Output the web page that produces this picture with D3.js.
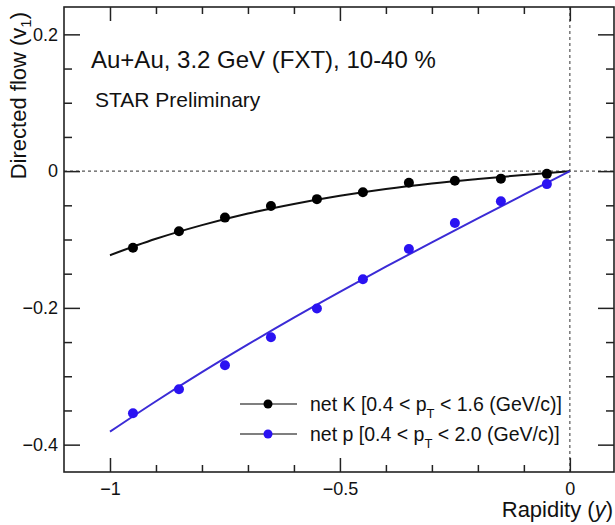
<!DOCTYPE html>
<html>
<head>
<meta charset="utf-8">
<script src="https://cdn.jsdelivr.net/npm/d3@7"></script>
<style>
  body { margin: 0; background: #fff; }
  svg { display: block; }
  text { font-family: "Liberation Sans", Arial, Helvetica, sans-serif; fill: #111; }
</style>
</head>
<body>
<svg id="chart" width="615" height="525"></svg>
<script>
// Directed flow v1 vs rapidity, Au+Au 3.2 GeV (FXT), 10-40 % centrality
const rapidity = [-0.95, -0.85, -0.75, -0.65, -0.55, -0.45, -0.35, -0.25, -0.15, -0.05];
const v1NetK   = [-0.112, -0.088, -0.068, -0.051, -0.041, -0.031, -0.017, -0.014, -0.011, -0.004];
const v1NetP   = [-0.354, -0.319, -0.284, -0.243, -0.201, -0.158, -0.114, -0.076, -0.044, -0.019];

// fitted curves, sampled along rapidity
const fitRapidity = [-1, -0.9, -0.8, -0.7, -0.6, -0.5, -0.4, -0.3, -0.2, -0.1, 0];
const fitNetK = [-0.123, -0.099, -0.079, -0.062, -0.048, -0.036, -0.026, -0.018, -0.0115, -0.0056, 0];
const fitNetP = [-0.381, -0.3365, -0.294, -0.2534, -0.2142, -0.1765, -0.1398, -0.1041, -0.069, -0.0344, 0];

const xMajorTicks = [-1, -0.5, 0];
const xMinorTicks = [-0.9, -0.8, -0.7, -0.6, -0.4, -0.3, -0.2, -0.1];
const yMajorTicks = [-0.4, -0.2, 0, 0.2];
const yMinorTicks = [-0.35, -0.3, -0.25, -0.15, -0.1, -0.05, 0.05, 0.1, 0.15];

const seriesNames = ["net K", "net p"];
const seriesColors = ["#000000", "#2a12f2"];
const fitColors = ["#111111", "#3b2bd6"];
const ptRanges = ["0.4 < p", "0.4 < p"];
const ptUpper = [" < 1.6 (GeV/c)]", " < 2.0 (GeV/c)]"];

const svg = d3.select("#chart");
const plot = { left: 64, right: 614, top: 7, bottom: 472 };

const x = d3.scaleLinear().domain([-1.1, 0.096]).range([plot.left, plot.right]);
const y = d3.scaleLinear().domain([-0.44, 0.24]).range([plot.bottom, plot.top]);

// reference lines at v1 = 0 and y = 0
svg.append("line")
  .attr("x1", x(-1.1)).attr("x2", x(0.096))
  .attr("y1", y(0)).attr("y2", y(0))
  .attr("stroke", "#555").attr("stroke-width", 1.2).attr("stroke-dasharray", "3,3");
svg.append("line")
  .attr("x1", x(0)).attr("x2", x(0))
  .attr("y1", y(0.24)).attr("y2", y(-0.44))
  .attr("stroke", "#555").attr("stroke-width", 1.2).attr("stroke-dasharray", "3,3");

// fit curves
const line = d3.line().x(d => x(d[0])).y(d => y(d[1])).curve(d3.curveMonotoneX);
[fitNetK, fitNetP].forEach((fit, i) => {
  svg.append("path")
    .datum(fitRapidity.map((r, j) => [r, fit[j]]))
    .attr("d", line)
    .attr("fill", "none")
    .attr("stroke", fitColors[i])
    .attr("stroke-width", 2);
});

// data points
[v1NetK, v1NetP].forEach((vals, i) => {
  svg.append("g").selectAll("circle")
    .data(rapidity.map((r, j) => [r, vals[j]]))
    .join("circle")
    .attr("cx", d => x(d[0]))
    .attr("cy", d => y(d[1]))
    .attr("r", 5)
    .attr("fill", seriesColors[i]);
});

// axes: ticks on all four sides, pointing inward
function styleAxis(g) {
  g.select(".domain").remove();
  g.selectAll(".tick line").attr("stroke", "#222").attr("stroke-width", 1.5);
  g.selectAll(".tick text").attr("font-size", 18).attr("fill", "#111")
    .attr("font-family", '"Liberation Sans", Arial, Helvetica, sans-serif');
}
const fmt = d => d === 0 ? "0" : d3.format("")(d).replace("-", "\u2212");

svg.append("g").attr("transform", `translate(0,${plot.bottom})`)
  .call(d3.axisBottom(x).tickValues(xMajorTicks).tickSize(-14).tickPadding(10).tickFormat(fmt))
  .call(styleAxis);
svg.append("g").attr("transform", `translate(0,${plot.bottom})`)
  .call(d3.axisBottom(x).tickValues(xMinorTicks).tickSize(-7).tickFormat(""))
  .call(styleAxis);
svg.append("g").attr("transform", `translate(0,${plot.top})`)
  .call(d3.axisTop(x).tickValues(xMajorTicks).tickSize(-14).tickFormat(""))
  .call(styleAxis);
svg.append("g").attr("transform", `translate(0,${plot.top})`)
  .call(d3.axisTop(x).tickValues(xMinorTicks).tickSize(-7).tickFormat(""))
  .call(styleAxis);

svg.append("g").attr("transform", `translate(${plot.left},0)`)
  .call(d3.axisLeft(y).tickValues(yMajorTicks).tickSize(-16).tickPadding(6).tickFormat(fmt))
  .call(styleAxis);
svg.append("g").attr("transform", `translate(${plot.left},0)`)
  .call(d3.axisLeft(y).tickValues(yMinorTicks).tickSize(-8).tickFormat(""))
  .call(styleAxis);
svg.append("g").attr("transform", `translate(${plot.right},0)`)
  .call(d3.axisRight(y).tickValues(yMajorTicks).tickSize(-16).tickFormat(""))
  .call(styleAxis);
svg.append("g").attr("transform", `translate(${plot.right},0)`)
  .call(d3.axisRight(y).tickValues(yMinorTicks).tickSize(-8).tickFormat(""))
  .call(styleAxis);

// frame
svg.append("rect")
  .attr("x", plot.left).attr("y", plot.top)
  .attr("width", plot.right - plot.left).attr("height", plot.bottom - plot.top)
  .attr("fill", "none").attr("stroke", "#222").attr("stroke-width", 1.6);

// axis titles
const yTitle = svg.append("text")
  .attr("transform", `translate(26,${plot.top + 5}) rotate(-90)`)
  .attr("text-anchor", "end")
  .attr("font-size", 22);
yTitle.append("tspan").text("Directed flow (v");
yTitle.append("tspan").attr("font-size", 15).attr("dy", 5).text("1");
yTitle.append("tspan").attr("dy", -5).text(")");

const xTitle = svg.append("text")
  .attr("x", plot.right - 1).attr("y", 517)
  .attr("text-anchor", "end")
  .attr("font-size", 22);
xTitle.append("tspan").text("Rapidity (");
xTitle.append("tspan").attr("font-style", "italic").text("y");
xTitle.append("tspan").text(")");

// annotations
svg.append("text").attr("x", 91).attr("y", 68).attr("font-size", 24)
  .text("Au+Au, 3.2 GeV (FXT), 10-40 %");
svg.append("text").attr("x", 95).attr("y", 107).attr("font-size", 21)
  .text("STAR Preliminary");

// legend
const legendRows = [404, 434];
seriesNames.forEach((name, i) => {
  const g = svg.append("g").attr("transform", `translate(0,${legendRows[i]})`);
  g.append("line").attr("x1", 240).attr("x2", 297).attr("y1", 0).attr("y2", 0)
    .attr("stroke", "#555").attr("stroke-width", 1.5);
  g.append("circle").attr("cx", 268).attr("cy", 0).attr("r", 4.5).attr("fill", seriesColors[i]);
  const t = g.append("text").attr("x", 310).attr("y", 7).attr("font-size", 19.5);
  t.append("tspan").text(`${name} [${ptRanges[i]}`);
  t.append("tspan").attr("font-size", 13).attr("dy", 7).text("T");
  t.append("tspan").attr("dy", -7).text(ptUpper[i]);
});
</script>
</body>
</html>
